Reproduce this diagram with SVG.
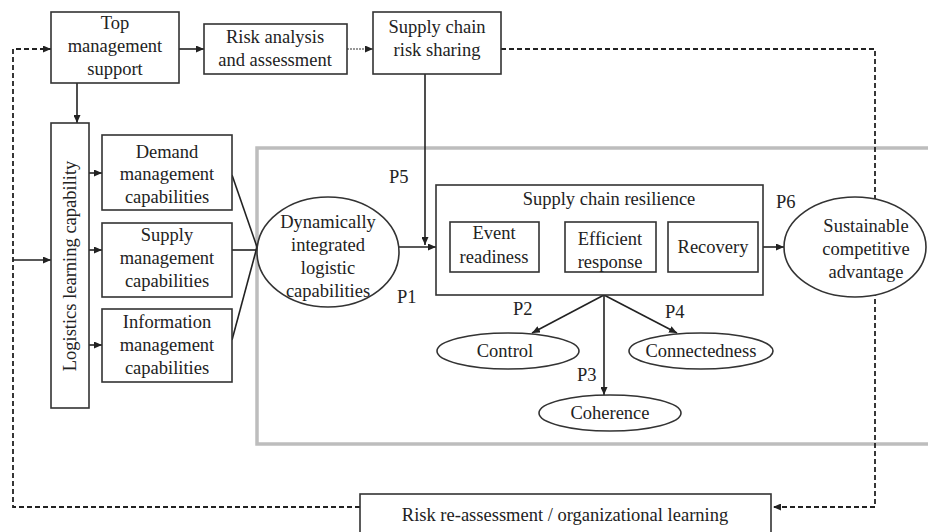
<svg xmlns="http://www.w3.org/2000/svg" width="928" height="532" viewBox="0 0 928 532" font-family="Liberation Serif, Times New Roman, serif" font-size="18.5">
  <style>
    text { fill: #222; text-anchor: middle; }
    .box { fill: #fff; stroke: #333; stroke-width: 1.6; }
    .ell { fill: #fff; stroke: #333; stroke-width: 1.6; }
    .line { fill: none; stroke: #222; stroke-width: 1.6; }
    .thin { fill: none; stroke: #333; stroke-width: 1.2; }
    .dash { fill: none; stroke: #222; stroke-width: 1.8; stroke-dasharray: 5 3; }
    .frame { fill: none; stroke: #bdbdbd; stroke-width: 3.5; }
    .plabel { text-anchor: start; }
  </style>
  <defs>
    <marker id="arrow" viewBox="0 0 8 7" refX="8" refY="3.5" markerWidth="8" markerHeight="7" markerUnits="userSpaceOnUse" orient="auto">
      <path d="M0,0 L8,3.5 L0,7 z" fill="#222"/>
    </marker>
  </defs>

  <rect width="928" height="532" fill="#fff"/>

  <!-- grey frame around the resilience model -->
  <path class="frame" d="M932,148 L257,148 L257,444 L932,444"/>

  <g id="connectors">
    <!-- feedback loop (dashed) -->
    <path class="dash" d="M501,49 L875,49 L875,507 L773,507" marker-end="url(#arrow)"/>
    <path class="dash" d="M360,507 L13,507 L13,49 L51,49" marker-end="url(#arrow)"/>
    <!-- top row -->
    <path class="line" d="M179,49 L204,49" marker-end="url(#arrow)"/>
    <path class="thin" d="M347,49 L373,49" stroke-dasharray="2 1" marker-end="url(#arrow)"/>
    <path class="line" d="M77,83 L77,123" marker-end="url(#arrow)"/>
    <path class="line" d="M425,74 L425,245" marker-end="url(#arrow)"/>
    <!-- left input -->
    <path class="line" d="M13,260 L51,260" marker-end="url(#arrow)"/>
    <!-- learning capability to capabilities -->
    <path class="line" d="M89,173 L102,173" marker-end="url(#arrow)"/>
    <path class="line" d="M89,250 L102,250" marker-end="url(#arrow)"/>
    <path class="line" d="M89,345 L102,345" marker-end="url(#arrow)"/>
    <!-- capabilities to integrated logistic capabilities -->
    <path class="line" d="M232,175 L257,247"/>
    <path class="line" d="M232,250 L257,250"/>
    <path class="line" d="M232,340 L257,247"/>
    <!-- integrated capabilities to resilience -->
    <path class="line" d="M399,247 L436,247" marker-end="url(#arrow)"/>
    <!-- resilience chain -->
    <path class="line" d="M539,247 L565,247" marker-end="url(#arrow)"/>
    <path class="line" d="M656,247 L668,247" marker-end="url(#arrow)"/>
    <path class="line" d="M763,247 L784,247" marker-end="url(#arrow)"/>
    <!-- resilience dimensions -->
    <path class="line" d="M604,295 L532,333" marker-end="url(#arrow)"/>
    <path class="line" d="M604,295 L604,395" marker-end="url(#arrow)"/>
    <path class="line" d="M604,295 L677,333" marker-end="url(#arrow)"/>
  </g>

  <g id="top-management">
    <rect class="box" x="51" y="12" width="128" height="71"/>
    <text x="115" y="29">Top</text>
    <text x="115" y="52">management</text>
    <text x="115" y="75">support</text>
  </g>
  <g id="risk-analysis">
    <rect class="box" x="204" y="24" width="143" height="50"/>
    <text x="275" y="43">Risk analysis</text>
    <text x="275" y="66">and assessment</text>
  </g>
  <g id="risk-sharing">
    <rect class="box" x="373" y="12" width="128" height="62"/>
    <text x="437" y="33">Supply chain</text>
    <text x="437" y="56">risk sharing</text>
  </g>
  <g id="learning-capability">
    <rect class="box" x="51" y="123" width="38" height="285"/>
    <text transform="translate(76,266) rotate(-90)">Logistics learning capability</text>
  </g>
  <g id="demand">
    <rect class="box" x="102" y="135" width="130" height="75"/>
    <text x="167" y="158">Demand</text>
    <text x="167" y="180">management</text>
    <text x="167" y="203">capabilities</text>
  </g>
  <g id="supply">
    <rect class="box" x="102" y="223" width="130" height="74"/>
    <text x="167" y="241">Supply</text>
    <text x="167" y="264">management</text>
    <text x="167" y="287">capabilities</text>
  </g>
  <g id="information">
    <rect class="box" x="102" y="309" width="130" height="73"/>
    <text x="167" y="328">Information</text>
    <text x="167" y="351">management</text>
    <text x="167" y="374">capabilities</text>
  </g>
  <g id="integrated-capabilities">
    <ellipse class="ell" cx="328" cy="252" rx="71" ry="55"/>
    <text x="328" y="228">Dynamically</text>
    <text x="328" y="251">integrated</text>
    <text x="328" y="274">logistic</text>
    <text x="328" y="297">capabilities</text>
  </g>
  <g id="resilience">
    <rect class="box" x="436" y="185" width="327" height="110"/>
    <text x="609" y="205">Supply chain resilience</text>
  </g>
  <g id="event-readiness">
    <rect class="box" x="450" y="222" width="89" height="50"/>
    <text x="494" y="239">Event</text>
    <text x="494" y="263">readiness</text>
  </g>
  <g id="efficient-response">
    <rect class="box" x="565" y="222" width="91" height="50"/>
    <text x="610" y="245">Efficient</text>
    <text x="610" y="268">response</text>
  </g>
  <g id="recovery">
    <rect class="box" x="668" y="222" width="90" height="50"/>
    <text x="713" y="253">Recovery</text>
  </g>
  <g id="competitive-advantage">
    <ellipse class="ell" cx="855" cy="247" rx="71" ry="50"/>
    <text x="866" y="232">Sustainable</text>
    <text x="866" y="255">competitive</text>
    <text x="866" y="278">advantage</text>
  </g>
  <g id="control">
    <ellipse class="ell" cx="508" cy="351" rx="71" ry="18"/>
    <text x="505" y="357">Control</text>
  </g>
  <g id="connectedness">
    <ellipse class="ell" cx="701" cy="351" rx="72" ry="18"/>
    <text x="701" y="357">Connectedness</text>
  </g>
  <g id="coherence">
    <ellipse class="ell" cx="610" cy="413" rx="71" ry="18"/>
    <text x="610" y="419">Coherence</text>
  </g>
  <g id="reassessment">
    <rect class="box" x="360" y="494" width="411" height="40"/>
    <text x="565" y="521">Risk re-assessment / organizational learning</text>
  </g>

  <g id="propositions">
    <text class="plabel" x="389" y="183">P5</text>
    <text class="plabel" x="397" y="303">P1</text>
    <text class="plabel" x="776" y="208">P6</text>
    <text class="plabel" x="513" y="315">P2</text>
    <text class="plabel" x="577" y="381">P3</text>
    <text class="plabel" x="665" y="318">P4</text>
  </g>
</svg>
